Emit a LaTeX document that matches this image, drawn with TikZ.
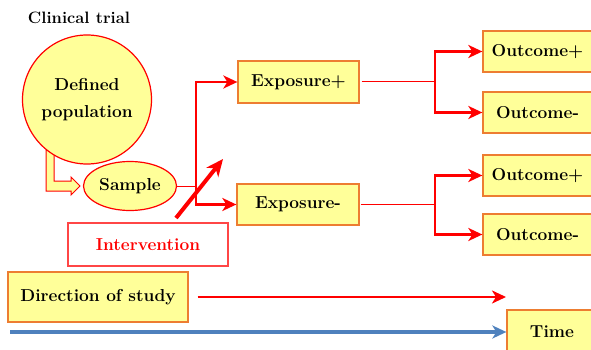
\documentclass[tikz,border=0pt]{standalone}
\usepackage{fontspec}
\usetikzlibrary{arrows.meta,shapes.geometric}
\definecolor{fillY}{RGB}{255,255,153}
\definecolor{boxO}{RGB}{237,125,49}
\definecolor{redA}{RGB}{255,0,0}
\definecolor{redB}{RGB}{255,70,70}
\definecolor{blueA}{RGB}{79,129,189}
\begin{document}
\begin{tikzpicture}[x=1pt,y=-1pt,
  font=\fontsize{17.3}{27}\selectfont\bfseries,
  box/.style={draw=boxO, fill=fillY, line width=1.3pt, inner sep=0pt},
  redshape/.style={draw=redA, fill=fillY, line width=1.2pt, inner sep=0pt},
  thinr/.style={draw=redA, line width=1pt},
  arr/.style={draw=redA, line width=2.4pt, -{Stealth[length=14pt,width=13pt,inset=4pt]}},
  barr/.style={draw=blueA, line width=3.2pt, -{Stealth[length=14pt,width=13pt,inset=4pt]}}]
\useasboundingbox (0,0) rectangle (591,350);

\node[font=\fontsize{16.5}{19}\selectfont\bfseries] (title) at (79,18) {Clinical trial};

% hollow bent arrow
\draw[draw=redA, fill=fillY, line width=1pt] (46,150) -- (54,150) -- (54,181) -- (71,181) -- (71,177) -- (80,186) -- (71,195) -- (71,191) -- (46,191) -- cycle;

\node[redshape, circle, minimum size=129pt, align=center] (pop) at (87,99.5) {Defined\\population};
\node[redshape, ellipse, minimum width=93pt, minimum height=49pt] (samp) at (130,186) {Sample};

\node[draw=redB, fill=white, line width=1.2pt, minimum width=160pt, minimum height=43pt, inner sep=0pt, text=redA] (int) at (148,244.5) {Intervention};

\node[box, minimum width=121pt, minimum height=42pt] (ep) at (298.5,82) {Exposure+};
\node[box, minimum width=122pt, minimum height=41pt] (em) at (298,204.5) {Exposure-};

\node[box, minimum width=109pt, minimum height=41pt] (o1p) at (537.5,51.5) {Outcome+};
\node[box, minimum width=109pt, minimum height=41pt] (o1m) at (537.5,112.5) {Outcome-};
\node[box, minimum width=109pt, minimum height=41pt] (o2p) at (537.5,175.5) {Outcome+};
\node[box, minimum width=109pt, minimum height=41pt] (o2m) at (537.5,234.5) {Outcome-};

\node[box, minimum width=180pt, minimum height=50pt] (dir) at (98,297) {Direction of study};
\node[box, minimum width=90pt, minimum height=44pt] (time) at (552,332) {Time};

% sample to exposures
\coordinate (j1) at (196,186);
\draw[thinr] (samp.east) -- (j1);
\draw[arr] (j1) |- (ep.west);
\draw[arr] (j1) |- (em.west);

% exposures to outcomes
\coordinate (j2) at (435,82);
\coordinate (j3) at (435,204.5);
\draw[thinr] ([xshift=2pt]ep.east) -- (j2);
\draw[arr] (j2) |- (o1p.west);
\draw[arr] (j2) |- (o1m.west);
\draw[thinr] ([xshift=1pt]em.east) -- (j3);
\draw[arr] (j3) |- (o2p.west);
\draw[arr] (j3) |- (o2m.west);

% intervention arrow
\coordinate (dS) at (176,218);
\coordinate (dE) at (223,159);
\draw[draw=redA, line width=4pt, -{Stealth[length=17pt,width=15pt,inset=5pt]}] (dS) -- (dE);

% direction and time
\coordinate (rEnd) at (506,297);
\draw[arr] ([xshift=9pt]dir.east) -- (rEnd);
\coordinate (bS) at (10,332);
\draw[barr] (bS) -- (time.west);
\end{tikzpicture}
\end{document}
